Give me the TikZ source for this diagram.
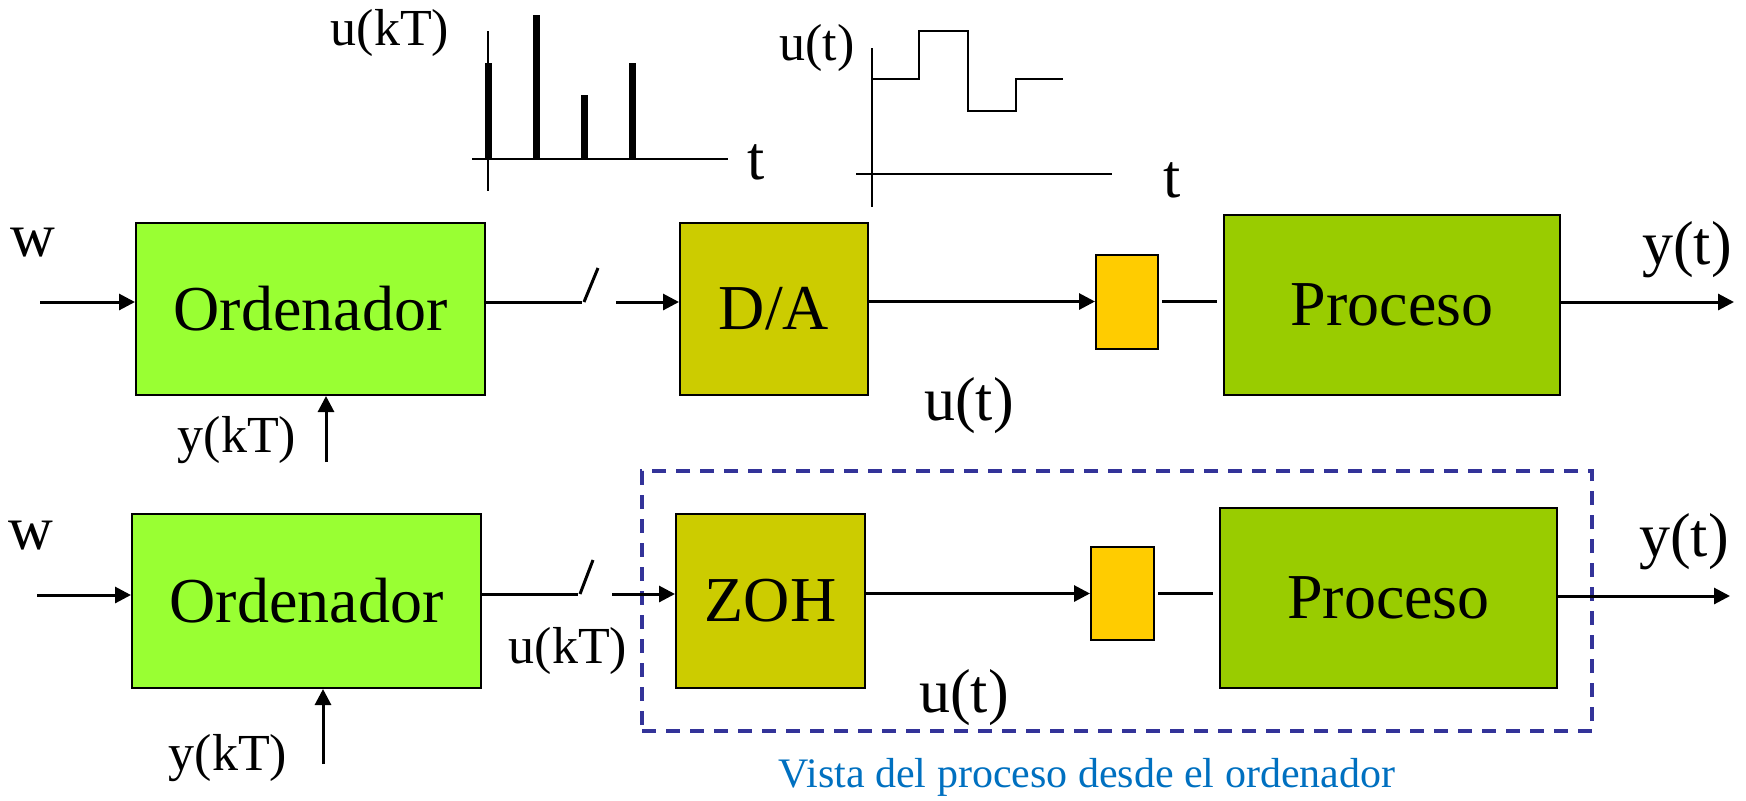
\documentclass[tikz,border=0pt]{standalone}
\usepackage{fontspec}
\setmainfont{Liberation Serif}
\usetikzlibrary{arrows.meta,calc}
\definecolor{ordc}{HTML}{99FF33}
\definecolor{dac}{HTML}{CCCC00}
\definecolor{yelc}{HTML}{FFCC00}
\definecolor{proc}{HTML}{99CC00}
\definecolor{dashc}{HTML}{333399}
\definecolor{vistac}{HTML}{0070C0}
\tikzset{
  blk/.style={draw=black, line width=1pt, inner sep=0pt, font=\fontsize{32}{36}\selectfont},
  conn/.style={line width=1.5pt},
  arr/.style={line width=1.5pt, -{Triangle[length=8pt,width=8pt]}},
  big/.style={font=\fontsize{31}{34}\selectfont, inner sep=0pt},
  small/.style={font=\fontsize{26}{30}\selectfont, inner sep=0pt},
  axis/.style={line width=1.2pt},
}
\begin{document}
\begin{tikzpicture}[x=0.5pt,y=-0.5pt]
\useasboundingbox (0,0) rectangle (1746,800);
% ---------- top row ----------
\node[blk, fill=ordc, minimum width=174.5pt, minimum height=86pt] (ord1) at (310.5,309) {Ordenador};
\node[blk, fill=dac, minimum width=94pt, minimum height=86pt] (da) at (774,309) {D/A};
\node[blk, fill=yelc, minimum width=31pt, minimum height=47pt] (yel1) at (1127,301.5) {};
\node[blk, fill=proc, minimum width=168pt, minimum height=90pt] (pro1) at (1392,305) {Proceso};
\coordinate (w1s) at (40,302);
\coordinate (sw1a) at (582,302);
\coordinate (sw1b) at (598,268);
\coordinate (sw1c) at (616,302);
\coordinate (out1) at (1734,302);
\coordinate (yk1s) at (326,462);
\draw[arr] (w1s) -- (ord1.west |- w1s);
\draw[conn] (ord1.east |- sw1a) -- (sw1a);
\draw[conn] ($(sw1a)+(2,0)$) -- (sw1b);
\draw[arr] (sw1c) -- (da.west |- sw1c);
\draw[arr] (da.east |- yel1.west) -- (yel1.west);
\draw[conn, shorten <=1.5pt, shorten >=3pt] (yel1.east) -- (pro1.west |- yel1.east);
\draw[arr] (pro1.east |- out1) -- (out1);
\draw[arr] (yk1s) -- (ord1.south -| yk1s);
\node[big] (w1) at (33,243) {w};
\node[big] (yt1) at (1687,250) {y(t)};
\node[big] (ut1) at (969,406) {u(t)};
\node[small] (ykt1) at (237,440) {y(kT)};
% ---------- bottom row ----------
\node[draw=dashc, line width=2pt, dash pattern=on 7pt off 5pt, minimum width=475pt, minimum height=130pt, inner sep=0pt] (view) at (1117,601) {};
\node[blk, fill=ordc, minimum width=174.5pt, minimum height=87pt] (ord2) at (306.5,601) {Ordenador};
\node[blk, fill=dac, minimum width=94.5pt, minimum height=87pt] (zoh) at (770.5,601) {ZOH};
\node[blk, fill=yelc, minimum width=31.5pt, minimum height=46.5pt] (yel2) at (1122.5,593.5) {};
\node[blk, fill=proc, minimum width=168.5pt, minimum height=90pt] (pro2) at (1388.5,598) {Proceso};
\coordinate (w2s) at (37,595);
\coordinate (sw2a) at (578,594);
\coordinate (sw2b) at (593,560);
\coordinate (sw2c) at (612,594);
\coordinate (out2) at (1730,596);
\coordinate (yk2s) at (323,764);
\draw[arr] (w2s) -- (ord2.west |- w2s);
\draw[conn] (ord2.east |- sw2a) -- (sw2a);
\draw[conn] ($(sw2a)+(2,0)$) -- (sw2b);
\draw[arr] (sw2c) -- (zoh.west |- sw2c);
\draw[arr] (zoh.east |- yel2.west) -- (yel2.west);
\draw[conn, shorten <=1.5pt, shorten >=3pt] (yel2.east) -- (pro2.west |- yel2.east);
\draw[arr] (pro2.east |- out2) -- (out2);
\draw[arr] (yk2s) -- (ord2.south -| yk2s);
\node[big] (w2) at (31,536) {w};
\node[big] (yt2) at (1684,542) {y(t)};
\node[big] (ut2) at (964,698) {u(t)};
\node[small] (ykt2) at (228,758) {y(kT)};
\node[small] (ukt2) at (568,651) {u(kT)};
\node[font=\fontsize{21}{24}\selectfont, text=vistac, inner sep=0pt] (vista) at (1087,777) {Vista del proceso desde el ordenador};
% ---------- plot u(kT) ----------
\draw[axis] (488,31) -- (488,191);
\draw[axis] (472,159) -- (728,159);
\foreach \x/\h in {488/63, 536/15, 584/95, 632/63}
  \draw[line width=3.5pt] (\x,159) -- (\x,\h);
\node[small] (ukt1) at (390,33) {u(kT)};
\node[big] (t1) at (756,162) {t};
% ---------- plot u(t) ----------
\draw[axis] (872,48) -- (872,207);
\draw[axis] (856,174) -- (1112,174);
\draw[axis] (872,79) -- (919,79) -- (919,31) -- (968,31) -- (968,111) -- (1016,111) -- (1016,79) -- (1063,79);
\node[small] (ut0) at (817,48) {u(t)};
\node[big] (t2) at (1172,180) {t};
\end{tikzpicture}
\end{document}
